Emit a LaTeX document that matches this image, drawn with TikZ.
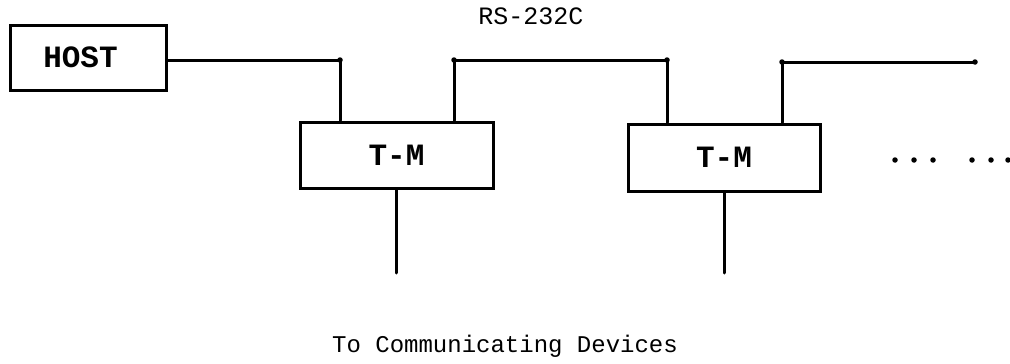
\documentclass[tikz,border=0pt]{standalone}
\usepackage{fontspec}
\setmonofont{Liberation Mono}
\begin{document}
\begin{tikzpicture}[x=1pt,y=-1pt,
  wire/.style={line width=3pt,line join=round,line cap=round},
  boxnode/.style={draw,line width=3pt,inner sep=0pt,font=\ttfamily\bfseries\fontsize{31}{34}\selectfont},
  pip/.style={circle,fill,inner sep=0pt,minimum size=5.5pt},
  lbl/.style={font=\ttfamily\fontsize{24}{28}\selectfont,inner sep=0pt}]
\useasboundingbox (0,0) rectangle (1010,364);
% boxes
\node[boxnode,minimum width=156pt,minimum height=65pt] (host) at (88,57.5) {HOST\hspace*{15pt}};
\node[boxnode,minimum width=193pt,minimum height=66pt] (tm1) at (396.5,155) {T-M};
\node[boxnode,minimum width=192pt,minimum height=67pt] (tm2) at (724,157.5) {T-M};
% corner coordinates
\coordinate (c1) at (340,60);
\coordinate (c2) at (454,60);
\coordinate (c3) at (667,60);
\coordinate (c4) at (782,62);
\coordinate (e1) at (975,62);
\coordinate (d1) at (396.5,273);
\coordinate (d2) at (724,273);
% bus
\draw[wire] (host.east |- c1) -- (c1) -- (c1 |- tm1.north);
\draw[wire] (c2 |- tm1.north) -- (c2) -- (c3) -- (c3 |- tm2.north);
\draw[wire] (c4 |- tm2.north) -- (c4) -- (e1);
\draw[wire] (tm1.south) -- (d1);
\draw[wire] (tm2.south) -- (d2);
% plotter pips at vertices
\foreach \p in {c1,c2,c3,c4,e1}{\node[pip] at (\p) {};}
% ellipsis
\foreach \x in {895,914,933,972,991,1008}{\node[pip] at (\x,160) {};}
% labels
\node[lbl,font=\ttfamily\fontsize{25}{28}\selectfont] (rs) at (531,16) {RS-232C};
\node[lbl] (dev) at (505,346) {To Communicating Devices};
\end{tikzpicture}
\end{document}
